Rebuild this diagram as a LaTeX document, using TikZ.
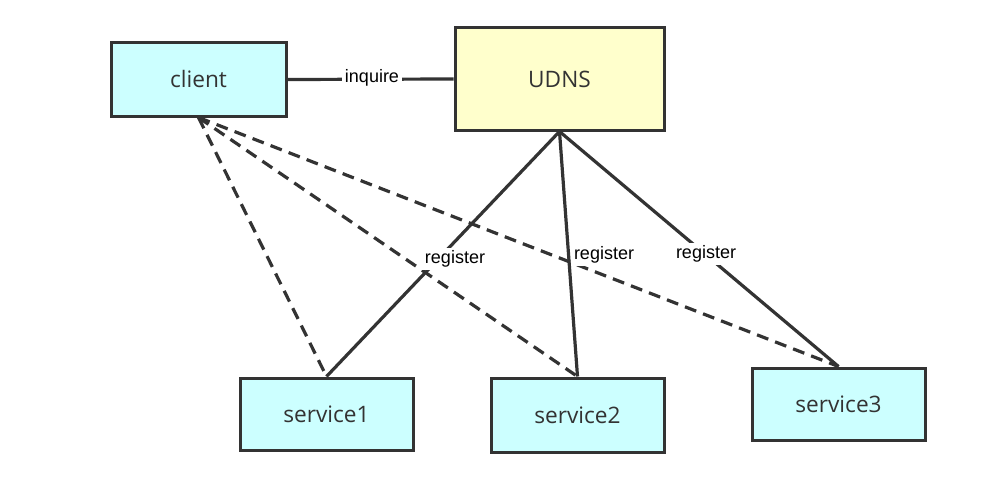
\documentclass[tikz,border=0pt]{standalone}
\usepackage{fontspec}
\setmainfont{Open Sans}
\newfontfamily\labelfont{Liberation Sans}
\definecolor{edge}{HTML}{333333}
\definecolor{cyanfill}{HTML}{CCFFFF}
\definecolor{yellowfill}{HTML}{FFFFCC}
\tikzset{
  box/.style={draw=edge, line width=2.25pt, text=edge, font=\fontsize{17}{19}\selectfont, inner sep=0pt},
  svc/.style={box, fill=cyanfill},
  conn/.style={draw=edge, line width=2.4pt},
  dconn/.style={conn, dash pattern=on 9pt off 5.5pt},
  lbl/.style={fill=white, text=black, font=\labelfont\fontsize{13.5}{15}\selectfont, inner sep=2pt}
}
\begin{document}
\begin{tikzpicture}[x=0.75pt,y=-0.75pt]
\useasboundingbox (0,0) rectangle (991,492);
\node[svc, minimum width=131.25pt, minimum height=54.75pt] (client) at (198.5,79.5) {client};
\node[box, fill=yellowfill, minimum width=156.75pt, minimum height=76.5pt] (udns) at (559.5,79) {UDNS};
\node[svc, minimum width=129.75pt, minimum height=54pt] (s1) at (326.5,414) {service1};
\node[svc, minimum width=129.75pt, minimum height=55.5pt] (s2) at (577.5,415) {service2};
\node[svc, minimum width=129.75pt, minimum height=54pt] (s3) at (838.5,404) {service3};

\draw[dconn] (client.south) -- (s1.north);
\draw[dconn] (client.south) -- (s2.north);
\draw[dconn] (client.south) -- (s3.north);
\draw[conn] (udns.south) -- (s1.north);
\draw[conn] (udns.south) -- (s2.north);
\draw[conn] (udns.south) -- (s3.north);
\draw[conn] (client.east) -- (udns.west);

\node[lbl] (l0) at (372,78) {inquire};
\node[lbl] (l1) at (455,259) {register};
\node[lbl] (l2) at (604,255) {register};
\node[lbl] (l3) at (706,254) {register};
\end{tikzpicture}
\end{document}
